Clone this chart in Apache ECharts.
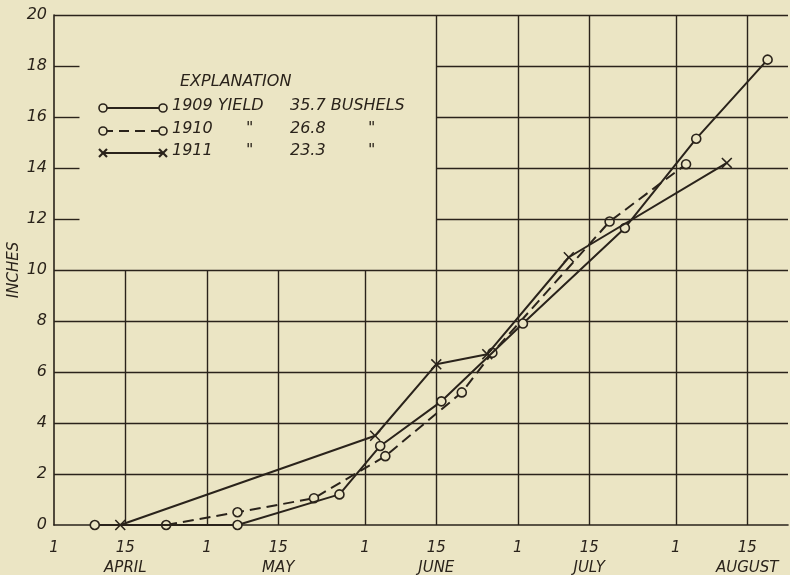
<!DOCTYPE html>
<html>
<head>
<meta charset="utf-8">
<script src="https://cdn.jsdelivr.net/npm/echarts@6/dist/echarts.min.js"></script>
<style>html,body{margin:0;padding:0;background:#ebe5c4;}#c{width:790px;height:575px;}</style>
</head>
<body>
<div id="c"></div>
<script>
// Days counted from April 1 (= day 0)
const tickDays = [0, 14, 30, 44, 61, 75, 91, 105, 122, 136];
const tickLabels = ['1', '15\nAPRIL', '1', '15\nMAY', '1', '15\nJUNE', '1', '15\nJULY', '1', '15\nAUGUST'];
const yTicks = [0, 2, 4, 6, 8, 10, 12, 14, 16, 18, 20];

const days1909 = [8, 36, 56, 64, 76, 92, 112, 126, 140];
const inches1909 = [0, 0, 1.2, 3.1, 4.85, 7.9, 11.65, 15.15, 18.25];
const days1910 = [22, 36, 51, 65, 80, 86, 109, 124];
const inches1910 = [0, 0.5, 1.05, 2.7, 5.2, 6.75, 11.9, 14.15];
const days1911 = [13, 63, 75, 85, 101, 132];
const inches1911 = [0, 3.5, 6.3, 6.7, 10.5, 14.2];

const legendYears = ['1909', '1910', '1911'];
const legendYields = ['35.7', '26.8', '23.3'];

const INK = '#2a231b';
const BG = '#ebe5c4';
const FONT = 'DejaVu Sans';
const XMAX = 144;
const BOX_RIGHT = 75;   // explanation box reaches June 15
const BOX_BOTTOM = 10;
const STUB = 5;

const zip = (a, b) => a.map((v, i) => [v, b[i]]);
const crossPath = 'path://M0,1L1,0L5,4L9,0L10,1L6,5L10,9L9,10L5,6L1,10L0,9L4,5Z';

// grid lines
const gridLines = [];
tickDays.forEach(d => {
  if (d === 0) return;
  const top = d < BOX_RIGHT ? BOX_BOTTOM : 20;
  gridLines.push([{ coord: [d, 0] }, { coord: [d, top] }]);
});
yTicks.forEach(v => {
  if (v === 0) return;
  if (v > BOX_BOTTOM && v < 20) {
    gridLines.push([{ coord: [0, v] }, { coord: [STUB, v] }]);
    gridLines.push([{ coord: [BOX_RIGHT, v] }, { coord: [XMAX, v] }]);
  } else {
    gridLines.push([{ coord: [0, v] }, { coord: [XMAX, v] }]);
  }
});

// legend graphics
const graphic = [];
const txt = (x, y, t, size) => ({
  type: 'text', left: x, top: y - 10,
  style: { text: t, font: 'italic ' + (size || 16) + 'px "' + FONT + '"', fill: INK }
});
graphic.push(txt(180, 84, 'EXPLANATION', 16));
const rowY = [108, 131, 153];
legendYears.forEach((yr, i) => {
  const y = rowY[i];
  graphic.push({
    type: 'line', shape: { x1: 103, y1: y, x2: 163, y2: y },
    style: { stroke: INK, lineWidth: 2, lineDash: i === 1 ? [10, 6] : null }, z: 10
  });
  [103, 163].forEach(cx => {
    if (i < 2) {
      graphic.push({ type: 'circle', shape: { cx: cx, cy: y, r: 4 }, style: { fill: BG, stroke: INK, lineWidth: 1.6 }, z: 11 });
    } else {
      graphic.push({ type: 'line', shape: { x1: cx - 4, y1: y - 4, x2: cx + 4, y2: y + 4 }, style: { stroke: INK, lineWidth: 2.2 }, z: 11 });
      graphic.push({ type: 'line', shape: { x1: cx - 4, y1: y + 4, x2: cx + 4, y2: y - 4 }, style: { stroke: INK, lineWidth: 2.2 }, z: 11 });
    }
  });
  if (i === 0) {
    graphic.push(txt(172, y, yr + ' YIELD'));
    graphic.push(txt(290, y, legendYields[i] + ' BUSHELS'));
  } else {
    graphic.push(txt(172, y, yr));
    graphic.push(txt(246, y, '"'));
    graphic.push(txt(290, y, legendYields[i]));
    graphic.push(txt(368, y, '"'));
  }
});

const chart = echarts.init(document.getElementById('c'), null, { renderer: 'canvas' });
chart.setOption({
  backgroundColor: BG,
  animation: false,
  grid: { left: 54, right: 2, top: 15, bottom: 50, outerBoundsMode: 'none', containLabel: false },
  xAxis: {
    type: 'value', min: 0, max: XMAX,
    axisLine: { show: true, lineStyle: { color: INK, width: 1.6 } },
    axisTick: { show: false },
    splitLine: { show: false },
    axisLabel: {
      customValues: tickDays,
      formatter: v => tickLabels[tickDays.indexOf(v)] || '',
      fontFamily: FONT, fontStyle: 'italic', fontSize: 15, color: INK,
      lineHeight: 20, margin: 13, align: 'center'
    }
  },
  yAxis: {
    type: 'value', min: 0, max: 20, interval: 2,
    name: 'INCHES', nameLocation: 'middle', nameGap: 32, nameRotate: 90, nameMoveOverlap: false,
    nameTextStyle: { fontFamily: FONT, fontStyle: 'italic', fontSize: 15, color: INK },
    axisLine: { show: true, lineStyle: { color: INK, width: 1.6 } },
    axisTick: { show: false },
    splitLine: { show: false },
    axisLabel: { fontFamily: FONT, fontStyle: 'italic', fontSize: 16, color: INK, margin: 7 }
  },
  graphic: graphic,
  series: [
    {
      name: 'grid', type: 'line', data: [[0, 0]], symbol: 'none', silent: true,
      lineStyle: { opacity: 0 }, z: 1,
      markLine: {
        silent: true, symbol: ['none', 'none'], label: { show: false },
        lineStyle: { color: INK, width: 1.4, type: 'solid' },
        data: gridLines, animation: false
      }
    },
    {
      name: '1909', type: 'line', data: zip(days1909, inches1909), z: 5,
      symbol: 'circle', symbolSize: 9,
      lineStyle: { color: INK, width: 2 },
      itemStyle: { color: BG, borderColor: INK, borderWidth: 1.6 }
    },
    {
      name: '1910', type: 'line', data: zip(days1910, inches1910), z: 4,
      symbol: 'circle', symbolSize: 9,
      lineStyle: { color: INK, width: 2, type: [11, 6] },
      itemStyle: { color: BG, borderColor: INK, borderWidth: 1.6 }
    },
    {
      name: '1911', type: 'line', data: zip(days1911, inches1911), z: 6,
      symbol: crossPath, symbolSize: 11,
      lineStyle: { color: INK, width: 2 },
      itemStyle: { color: INK }
    }
  ]
});
</script>
</body>
</html>
